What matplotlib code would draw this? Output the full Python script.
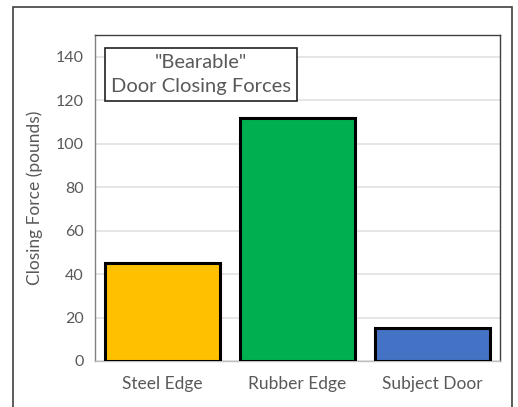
import matplotlib.pyplot as plt
from matplotlib.patches import Rectangle

plt.rcParams['font.family'] = ['Lato', 'DejaVu Sans']

# данные
categories = ['Steel Edge', 'Rubber Edge', 'Subject Door']
forces = [45, 112, 15]
colors = ['#FFC000', '#00B050', '#4472C4']
yticks = [0, 20, 40, 60, 80, 100, 120, 140]

fig = plt.figure(figsize=(5.18, 4.07), dpi=100)
ax = fig.add_axes([95 / 518, 1 - 361 / 407, 405 / 518, 326 / 407])

x = range(len(categories))
ax.bar(x, forces, width=0.85, color=colors, edgecolor='black', linewidth=2.2, zorder=3)

ax.set_xlim(-0.5, 2.5)
ax.set_ylim(0, 150)
ax.set_yticks(yticks)
ax.set_xticks(list(x))
ax.set_xticklabels(categories)
ax.grid(axis='y', color='#e0e0e0', linewidth=1.2, zorder=0)
ax.tick_params(length=0, labelsize=11.5, colors='#595959', pad=8)
ax.tick_params(axis='x', labelsize=12.5, pad=11)
for s in ax.spines.values():
    s.set_color('#404040')
    s.set_linewidth(1.0)
ax.spines['left'].set_color('#808080')
ax.spines['bottom'].set_color('#bfbfbf')

ax.set_ylabel('Closing Force (pounds)', fontsize=12.5, color='#595959', labelpad=9)

# подпись в рамке
ax.text(0.262, 0.879, '"Bearable"\nDoor Closing Forces', transform=ax.transAxes,
        fontsize=14.5, color='#595959', ha='center', va='center', linespacing=1.45,
        bbox=dict(boxstyle='square,pad=0.3', facecolor='white', edgecolor='#202020', linewidth=1.2),
        zorder=5)

# внешняя рамка
fig.patches.append(Rectangle((13 / 518, -0.1), 499 / 518, 1.1 - 7 / 407, transform=fig.transFigure,
                             fill=False, edgecolor='#404040', linewidth=1.2))

fig.savefig('out.png', dpi=100)
